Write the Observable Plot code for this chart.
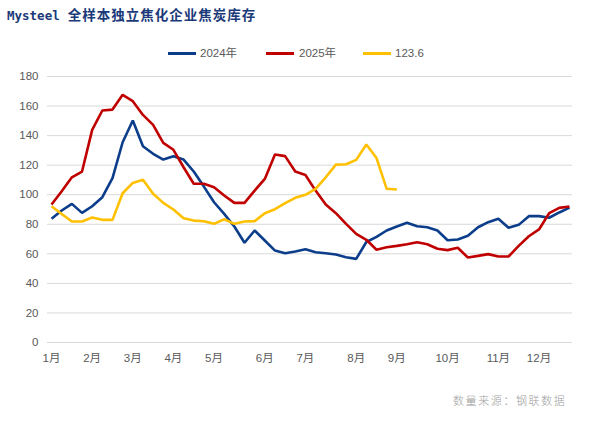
<!DOCTYPE html>
<html><head><meta charset="utf-8">
<script src="https://cdn.jsdelivr.net/npm/d3@7"></script>
<script src="https://cdn.jsdelivr.net/npm/@observablehq/plot@0.6"></script>
<style>
body{margin:0;background:#fff;}
#wrap{position:relative;width:604px;height:429px;overflow:hidden;font-family:"Liberation Sans","Noto Sans CJK SC",sans-serif;background:#fff;}
#title{position:absolute;left:7px;top:4px;color:#1b3a7a;font-weight:bold;white-space:nowrap;line-height:20px;}
#title .en{font-family:"DejaVu Sans Mono",monospace;font-size:12.5px;}
#title .zh{font-family:"Noto Sans CJK SC",sans-serif;font-size:13.5px;letter-spacing:1px;margin-left:8px;}
.lg{position:absolute;top:45px;font-size:11.5px;color:#595959;line-height:16px;white-space:nowrap;}
.sw{position:absolute;height:3px;width:28px;top:52px;}
#src{position:absolute;left:453px;top:392px;font-size:11px;color:#a0a0a0;letter-spacing:1.6px;font-family:"Noto Sans CJK SC",sans-serif;font-weight:300;white-space:nowrap;}
#chart{position:absolute;left:0;top:65px;}
</style></head>
<body>
<div id="wrap">
  <div id="title"><span class="en">Mysteel</span><span class="zh">全样本独立焦化企业焦炭库存</span></div>
  <div id="legend"></div>
  <div id="chart"></div>
  <div id="src">数量来源：钢联数据</div>
</div>
<script>
const seriesNames = ["2024年", "2025年", "123.6"];
const seriesColors = ["#0b3d8a", "#c00000", "#ffc000"];
const s2024 = [83.7,89.3,93.8,87.7,92.2,98.3,111.2,135.5,150.2,132.8,127.7,123.8,126,123.8,115.7,105.5,94.9,87,78.5,67.5,75.8,69,62.2,60.4,61.6,63.1,61.1,60.4,59.5,57.7,56.6,68,71.5,75.8,78.5,81,78.7,78,75.8,69.2,69.7,72.2,78,81.4,83.7,77.6,79.6,85.5,85.5,84.4,88,91.3];
const s2025 = [93.4,102.4,111.8,115.7,143.9,157,157.6,167.6,163.3,154,147.3,135.1,130.4,118.6,107.4,107.4,105.1,99.5,94.5,94.5,102.8,110.7,127.2,126.1,115.7,113.4,102.8,93.4,87.5,80.3,73.5,69.5,62.8,64.5,65.4,66.5,67.9,66.5,63.4,62.5,64.1,57.5,58.6,59.8,58.2,58.2,65.4,71.9,76.5,87.5,91.1,92];
const s1236 = [92.2,87,81.9,81.9,84.6,83,83,101,108,110.1,100.6,94.5,90,84.1,82.5,82.1,80.3,83.4,80.3,81.9,82.1,87.5,90.2,94.3,97.9,99.9,104,111.8,120.4,120.6,123.6,134,124.8,104,103.5];
const monthTickWeeks = [0,4,8,12,16,21,25,30,34,39,44,48];
const monthLabels = ["1月","2月","3月","4月","5月","6月","7月","8月","9月","10月","11月","12月"];
const yTicks = [0,20,40,60,80,100,120,140,160,180];

const allSeries = [s2024, s2025, s1236];
const data = [];
allSeries.forEach((arr, si) => arr.forEach((v, i) => data.push({week: i, value: v, series: seriesNames[si]})));

// legend
const legend = document.getElementById("legend");
const lgPos = [[168,200],[266,299],[363,395]];
seriesNames.forEach((n, i) => {
  const sw = document.createElement("div");
  sw.className = "sw"; sw.style.left = lgPos[i][0] + "px"; sw.style.background = seriesColors[i];
  legend.appendChild(sw);
  const t = document.createElement("div");
  t.className = "lg"; t.style.left = lgPos[i][1] + "px"; t.textContent = n;
  legend.appendChild(t);
});

const chart = Plot.plot({
  width: 604,
  height: 310,
  marginLeft: 47,
  marginRight: 32,
  marginTop: 11,
  marginBottom: 33,
  style: {fontFamily: '"Liberation Sans","Noto Sans CJK SC",sans-serif', fontSize: "11.5px", color: "#595959", background: "#fff"},
  x: {domain: [-0.4, 51.3]},
  y: {domain: [0, 180]},
  color: {domain: seriesNames, range: seriesColors},
  marks: [
    Plot.ruleY(yTicks, {stroke: "#d9d9d9", strokeWidth: 1}),
    Plot.axisY({ticks: yTicks, tickSize: 0, tickPadding: 9, label: null, fill: "#595959"}),
    Plot.axisX({ticks: monthTickWeeks, tickFormat: d => monthLabels[monthTickWeeks.indexOf(d)], tickSize: 0, tickPadding: 11, label: null, fill: "#595959"}),
    Plot.line(data, {x: "week", y: "value", z: "series", stroke: "series", strokeWidth: 2.6, strokeLinejoin: "miter", strokeLinecap: "butt"})
  ]
});
document.getElementById("chart").appendChild(chart);
</script>
</body></html>
